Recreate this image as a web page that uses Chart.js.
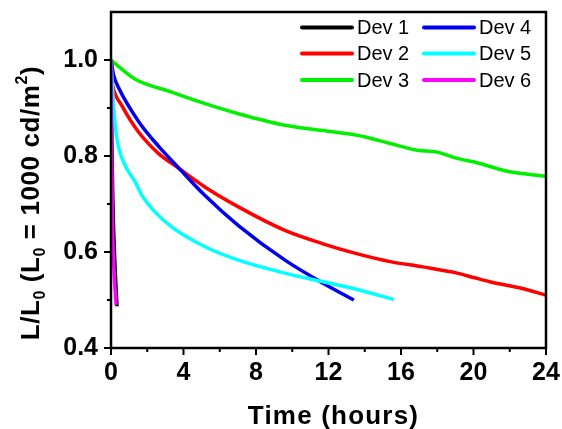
<!DOCTYPE html>
<html>
<head>
<meta charset="utf-8">
<script src="https://cdn.jsdelivr.net/npm/chart.js@4.4.1/dist/chart.umd.min.js"></script>
<style>
  body { margin: 0; background: #fff; }
  #wrap { width: 562px; height: 429px; position: relative; }
</style>
</head>
<body>
<div id="wrap"><canvas id="decay-chart"></canvas></div>
<script>
const FONT = '"Liberation Sans", Arial, sans-serif'

const seriesNames = ['Dev 1', 'Dev 2', 'Dev 3', 'Dev 4', 'Dev 5', 'Dev 6']
const seriesColors = ['#000000', '#ff0000', '#00f000', '#0000ee', '#00ffff', '#ff00ff']

// time in hours, L/L0
const dev1Time = [0, 0.04, 0.09, 0.15, 0.22, 0.33]
const dev1Vals = [1.0, 0.86, 0.73, 0.64, 0.57, 0.487]
const dev2Time = [0, 0.1, 0.6, 1.52, 2.63, 3.64, 5.2, 7.03, 9.6, 11.7, 13.6, 15.4, 17.2, 19.1, 20.0, 20.9, 22.7, 24]
const dev2Vals = [0.97, 0.945, 0.905, 0.85, 0.805, 0.777, 0.735, 0.694, 0.645, 0.617, 0.596, 0.58, 0.569, 0.556, 0.547, 0.538, 0.524, 0.51]
const dev3Time = [0, 0.5, 1.34, 3.36, 5.2, 7.03, 9.6, 11.7, 13.6, 14.1, 15.4, 16.9, 18.0, 19.1, 20.2, 22.0, 24]
const dev3Vals = [1.0, 0.984, 0.96, 0.933, 0.909, 0.888, 0.864, 0.853, 0.843, 0.839, 0.826, 0.812, 0.808, 0.795, 0.786, 0.767, 0.758]
const dev4Time = [0, 0.15, 0.42, 1.52, 2.63, 3.64, 5.2, 7.03, 9.6, 11.7, 13.4]
const dev4Vals = [1.0, 0.968, 0.942, 0.872, 0.82, 0.779, 0.717, 0.655, 0.583, 0.535, 0.5]
const dev5Time = [0, 0.14, 0.33, 0.79, 1.34, 1.71, 2.44, 3.36, 5.2, 7.03, 9.6, 11.7, 13.6, 15.6]
const dev5Vals = [1.0, 0.905, 0.836, 0.78, 0.746, 0.718, 0.683, 0.652, 0.611, 0.583, 0.556, 0.538, 0.522, 0.501]
const dev6Time = [0, 0.03, 0.06, 0.1, 0.17, 0.28]
const dev6Vals = [1.0, 0.85, 0.72, 0.63, 0.56, 0.49]

const xTickValues = [0, 4, 8, 12, 16, 20, 24]
const xMinorValues = [2, 6, 10, 14, 18, 22]
const yTickValues = [0.4, 0.6, 0.8, 1.0]
const yMinorValues = [0.5, 0.7, 0.9]

const allTimes = [dev1Time, dev2Time, dev3Time, dev4Time, dev5Time, dev6Time]
const allVals = [dev1Vals, dev2Vals, dev3Vals, dev4Vals, dev5Vals, dev6Vals]

const datasets = seriesNames.map((name, i) => ({
  label: name,
  data: allTimes[i].map((t, j) => ({ x: t, y: allVals[i][j] })),
  borderColor: seriesColors[i],
  backgroundColor: seriesColors[i],
  borderWidth: 3.5,
  pointRadius: 0,
  cubicInterpolationMode: 'monotone',
  showLine: true,
  fill: false,
  order: 6 - i
}))

// frame, outward ticks, titles and a two-column legend
const decorations = {
  id: 'decorations',
  afterDraw(chart) {
    const { ctx, chartArea: a, scales } = chart
    const xs = scales.x, ys = scales.y
    ctx.save()
    ctx.strokeStyle = '#000'
    ctx.lineWidth = 2.5
    ctx.strokeRect(a.left, a.top, a.right - a.left, a.bottom - a.top)

    ctx.lineWidth = 2
    ctx.beginPath()
    xTickValues.forEach(v => { const p = xs.getPixelForValue(v); ctx.moveTo(p, a.bottom); ctx.lineTo(p, a.bottom + 7) })
    xMinorValues.forEach(v => { const p = xs.getPixelForValue(v); ctx.moveTo(p, a.bottom); ctx.lineTo(p, a.bottom + 4) })
    yTickValues.forEach(v => { const p = ys.getPixelForValue(v); ctx.moveTo(a.left, p); ctx.lineTo(a.left - 7, p) })
    yMinorValues.forEach(v => { const p = ys.getPixelForValue(v); ctx.moveTo(a.left, p); ctx.lineTo(a.left - 4, p) })
    ctx.stroke()

    // x title
    ctx.fillStyle = '#000'
    ctx.font = 'bold 26px ' + FONT
    ctx.letterSpacing = '1.2px'
    ctx.textAlign = 'center'
    ctx.textBaseline = 'alphabetic'
    ctx.fillText('Time (hours)', (a.left + a.right) / 2 + 5, 424)

    // y title with sub/superscripts
    const parts = [
      ['L/L', 0], ['0', 1], [' (L', 0], ['0', 1], [' = 1000 cd/m', 0], ['2', -1], [')', 0]
    ]
    const big = 'bold 26px ' + FONT, small = 'bold 16px ' + FONT
    ctx.letterSpacing = '0.6px'
    let w = 0
    parts.forEach(([t, s]) => { ctx.font = s ? small : big; w += ctx.measureText(t).width })
    ctx.translate(39, 203)
    ctx.rotate(-Math.PI / 2)
    ctx.textAlign = 'left'
    let x = -w / 2
    parts.forEach(([t, s]) => {
      ctx.font = s ? small : big
      const dy = s === 1 ? 6 : s === -1 ? -12 : 0
      ctx.fillText(t, x, dy)
      x += ctx.measureText(t).width
    })
    ctx.restore()

    // legend
    ctx.save()
    ctx.letterSpacing = '0px'
    ctx.font = '20px ' + FONT
    ctx.textBaseline = 'middle'
    ctx.textAlign = 'left'
    const colX = [302, 424]
    const rowY = [27.5, 53.5, 80]
    chart.data.datasets.forEach((ds, i) => {
      const cx = colX[Math.floor(i / 3)], cy = rowY[i % 3]
      ctx.strokeStyle = ds.borderColor
      ctx.lineWidth = 4
      ctx.lineCap = 'round'
      ctx.beginPath(); ctx.moveTo(cx, cy); ctx.lineTo(cx + 50, cy); ctx.stroke()
      ctx.fillStyle = '#000'
      ctx.fillText(ds.label, cx + 55, cy + 1)
    })
    ctx.restore()
  }
}

const ctx = document.getElementById('decay-chart').getContext('2d')
new Chart(ctx, {
  type: 'scatter',
  data: { datasets },
  options: {
    responsive: true,
    maintainAspectRatio: false,
    animation: false,
    layout: { padding: { top: 12, right: 16, left: 0, bottom: 0 } },
    plugins: { legend: { display: false }, tooltip: { enabled: false } },
    scales: {
      x: {
        type: 'linear', min: 0, max: 24,
        afterBuildTicks: s => { s.ticks = xTickValues.map(v => ({ value: v })) },
        afterFit: s => { s.height = 81; s.paddingLeft = 0; s.paddingRight = 0 },
        grid: { display: false, drawTicks: false },
        border: { display: false },
        ticks: { color: '#000', padding: 10, maxRotation: 0, font: { family: FONT, size: 25, weight: 'bold' } }
      },
      y: {
        type: 'linear', min: 0.4, max: 1.1,
        afterBuildTicks: s => { s.ticks = yTickValues.map(v => ({ value: v })) },
        afterFit: s => { s.width = 111; s.paddingTop = 0; s.paddingBottom = 0 },
        grid: { display: false, drawTicks: false },
        border: { display: false },
        ticks: { color: '#000', padding: 13, font: { family: FONT, size: 25, weight: 'bold' }, callback: v => v.toFixed(1) }
      }
    }
  },
  plugins: [decorations]
})
</script>
</body>
</html>
